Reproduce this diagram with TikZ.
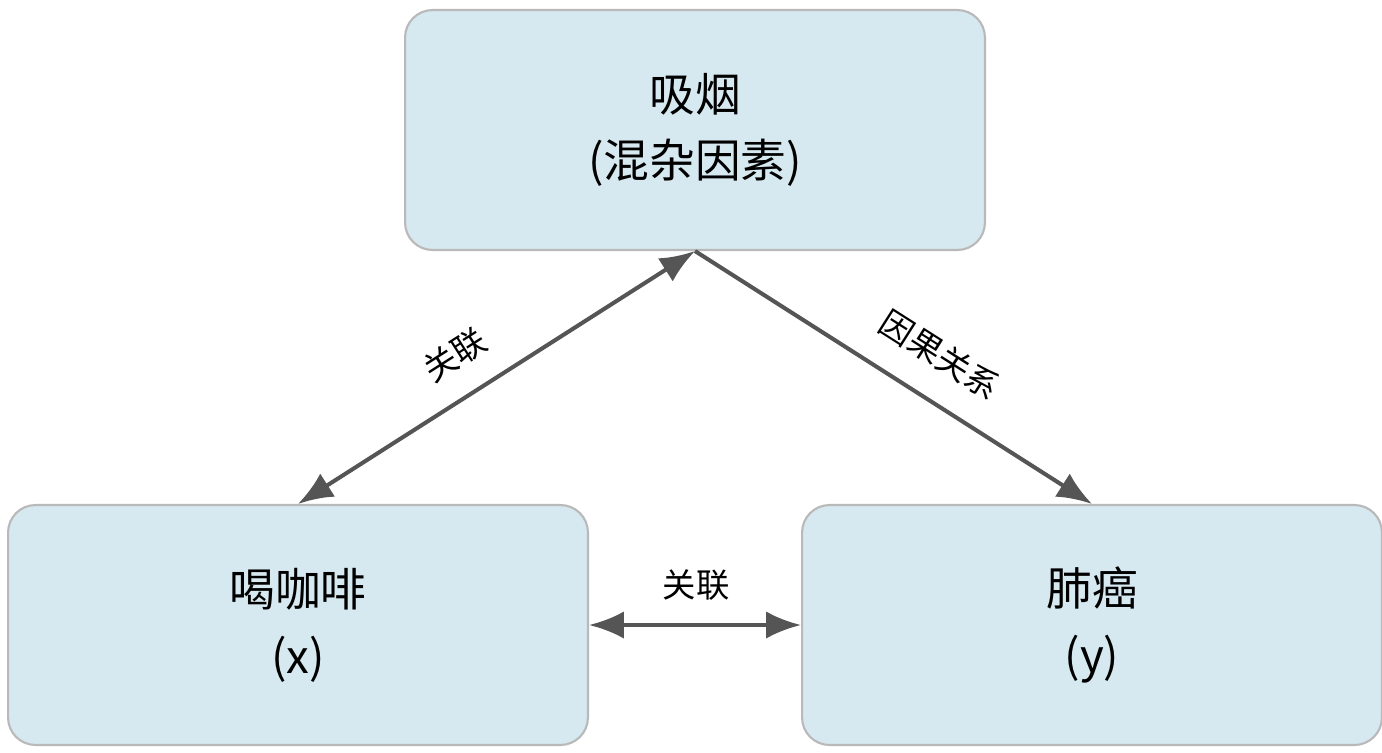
\documentclass[tikz,border=0pt]{standalone}
\usepackage{fontspec}
\usepackage{tikz}
\usetikzlibrary{arrows.meta,positioning}
\setmainfont{Noto Sans CJK SC}
\definecolor{boxblue}{RGB}{214,232,240}
\definecolor{boxgray}{RGB}{185,185,185}
\definecolor{linkgray}{RGB}{85,85,85}
\begin{document}
\begin{tikzpicture}[x=0.02cm, y=-0.02cm,
    box/.style={draw=boxgray, line width=1.2pt, fill=boxblue, rounded corners=0.55cm,
        minimum width=11.6cm, minimum height=4.8cm, align=center, font=\fontsize{26}{38}\selectfont},
    link/.style={draw=linkgray, line width=2.3pt, -{Latex[length=0.7cm,width=0.55cm]}},
    tag/.style={font=\fontsize{19}{22}\selectfont}]
    \useasboundingbox (0,0) rectangle (1382,752);

    % Boxes
    \node[box] (smoke) at (695,130) {吸烟\\(混杂因素)};
    \node[box] (coffee) at (298,625) {喝咖啡\\(x)};
    \node[box] (cancer) at (1092,625) {肺癌\\(y)};

    % Links
    \draw[link, {Latex[length=0.7cm,width=0.55cm]}-{Latex[length=0.7cm,width=0.55cm]}] (smoke.south) -- (coffee.north);
    \draw[link] (smoke.south) -- (cancer.north);
    \draw[link, {Latex[length=0.7cm,width=0.55cm]}-{Latex[length=0.7cm,width=0.55cm]}] (coffee.east) -- (cancer.west);

    % Labels
    \node[tag, rotate=32.5] (assoc1) at (455,355) {关联};
    \node[tag, rotate=-32.5] (cause) at (940,355) {因果关系};
    \node[tag] (assoc2) at (696,585) {关联};
\end{tikzpicture}
\end{document}
